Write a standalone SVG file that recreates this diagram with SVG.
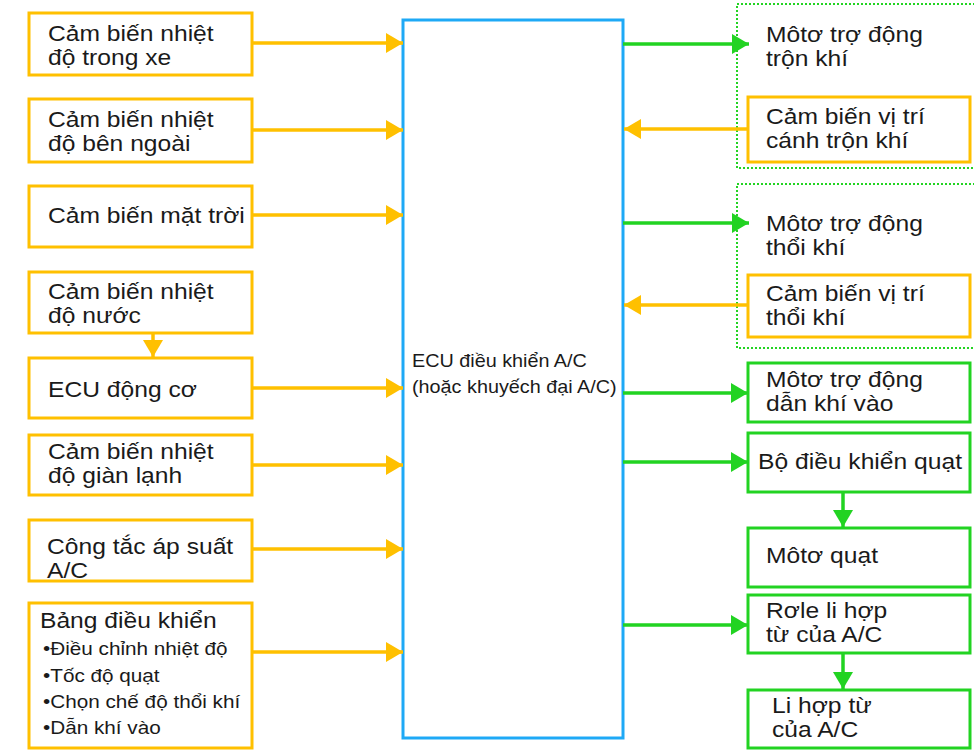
<svg xmlns="http://www.w3.org/2000/svg" width="974" height="751" viewBox="0 0 974 751">
<style>
.bg{fill:#ffffff}
.ob{fill:#ffffff;stroke:#FFC000;stroke-width:3}
.gb{fill:#ffffff;stroke:#22D322;stroke-width:3}
.dg{fill:none;stroke:#22D322;stroke-width:2;stroke-dasharray:2 2}
.ecu{fill:#ffffff;stroke:#1EA9F6;stroke-width:3}
.t{font-family:"Liberation Sans",Arial,sans-serif;font-size:22px;fill:#1a1a1a}
.s{font-family:"Liberation Sans",Arial,sans-serif;font-size:18px;fill:#1a1a1a}
.b{font-family:"Liberation Sans",Arial,sans-serif;font-size:18.5px;fill:#1a1a1a}
.oa{stroke:#FFC000;stroke-width:3.5;fill:none;marker-end:url(#ho)}
.ga{stroke:#22D322;stroke-width:3.5;fill:none;marker-end:url(#hg)}
</style>
<defs>
<marker id="ho" markerUnits="userSpaceOnUse" markerWidth="17" markerHeight="20" refX="17" refY="10" orient="auto">
<path d="M0,0 L17,10 L0,20 z" fill="#FFC000"/>
</marker>
<marker id="hg" markerUnits="userSpaceOnUse" markerWidth="17" markerHeight="20" refX="17" refY="10" orient="auto">
<path d="M0,0 L17,10 L0,20 z" fill="#22D322"/>
</marker>
</defs>
<rect class="bg" x="0" y="0" width="974" height="751"/>

<g id="groups">
<rect id="grp-mix" class="dg" x="737" y="4" width="250" height="164"/>
<rect id="grp-blow" class="dg" x="737" y="184" width="250" height="164"/>
</g>

<g id="ecu">
<rect class="ecu" x="403" y="20" width="220" height="718"/>
<text class="s" transform="translate(412 367) scale(1.1 1)">ECU điều khiển A/C</text>
<text class="s" transform="translate(412 393) scale(1.1 1)">(hoặc khuyếch đại A/C)</text>
</g>

<g id="in-cabin">
<rect class="ob" x="29" y="13" width="223" height="62"/>
<text class="t" transform="translate(48 41) scale(1.12 1)">Cảm biến nhiệt</text>
<text class="t" transform="translate(48 65) scale(1.12 1)">độ trong xe</text>
</g>
<g id="ambient">
<rect class="ob" x="29" y="99" width="223" height="63"/>
<text class="t" transform="translate(48 127) scale(1.12 1)">Cảm biến nhiệt</text>
<text class="t" transform="translate(48 151) scale(1.12 1)">độ bên ngoài</text>
</g>
<g id="solar">
<rect class="ob" x="29" y="186" width="223" height="61"/>
<text class="t" transform="translate(48 223) scale(1.12 1)">Cảm biến mặt trời</text>
</g>
<g id="water">
<rect class="ob" x="29" y="272" width="223" height="61"/>
<text class="t" transform="translate(48 299) scale(1.12 1)">Cảm biến nhiệt</text>
<text class="t" transform="translate(48 323) scale(1.12 1)">độ nước</text>
</g>
<g id="engine-ecu">
<rect class="ob" x="29" y="358" width="223" height="60"/>
<text class="t" transform="translate(48 397) scale(1.12 1)">ECU động cơ</text>
</g>
<g id="evap">
<rect class="ob" x="29" y="435" width="223" height="60"/>
<text class="t" transform="translate(48 459) scale(1.12 1)">Cảm biến nhiệt</text>
<text class="t" transform="translate(48 483) scale(1.12 1)">độ giàn lạnh</text>
</g>
<g id="pressure">
<rect class="ob" x="29" y="520" width="223" height="61"/>
<text class="t" transform="translate(47 554) scale(1.12 1)">Công tắc áp suất</text>
<text class="t" transform="translate(47 578) scale(1.12 1)">A/C</text>
</g>
<g id="panel">
<rect class="ob" x="29" y="603" width="223" height="145"/>
<text class="t" transform="translate(40 628) scale(1.12 1)">Bảng điều khiển</text>
<text class="b" transform="translate(43 655) scale(1.12 1)">•Điều chỉnh nhiệt độ</text>
<text class="b" transform="translate(43 682) scale(1.12 1)">•Tốc độ quạt</text>
<text class="b" transform="translate(43 708) scale(1.12 1)">•Chọn chế độ thổi khí</text>
<text class="b" transform="translate(43 734) scale(1.12 1)">•Dẫn khí vào</text>
</g>

<g id="mix-motor">
<text class="t" transform="translate(766 42) scale(1.12 1)">Môtơ trợ động</text>
<text class="t" transform="translate(766 66) scale(1.12 1)">trộn khí</text>
</g>
<g id="mix-sensor">
<rect class="ob" x="748" y="97" width="222" height="65"/>
<text class="t" transform="translate(766 124) scale(1.12 1)">Cảm biến vị trí</text>
<text class="t" transform="translate(766 148) scale(1.12 1)">cánh trộn khí</text>
</g>
<g id="blow-motor">
<text class="t" transform="translate(766 231) scale(1.12 1)">Môtơ trợ động</text>
<text class="t" transform="translate(766 255) scale(1.12 1)">thổi khí</text>
</g>
<g id="blow-sensor">
<rect class="ob" x="748" y="275" width="222" height="62"/>
<text class="t" transform="translate(766 301) scale(1.12 1)">Cảm biến vị trí</text>
<text class="t" transform="translate(766 325) scale(1.12 1)">thổi khí</text>
</g>
<g id="intake-motor">
<rect class="gb" x="748" y="363" width="222" height="59"/>
<text class="t" transform="translate(766 387) scale(1.12 1)">Môtơ trợ động</text>
<text class="t" transform="translate(766 411) scale(1.12 1)">dẫn khí vào</text>
</g>
<g id="fan-ctrl">
<rect class="gb" x="748" y="433" width="222" height="59"/>
<text class="t" transform="translate(758 469) scale(1.12 1)">Bộ điều khiển quạt</text>
</g>
<g id="fan-motor">
<rect class="gb" x="748" y="528" width="222" height="59"/>
<text class="t" transform="translate(766 563) scale(1.12 1)">Môtơ quạt</text>
</g>
<g id="clutch-relay">
<rect class="gb" x="748" y="595" width="222" height="58"/>
<text class="t" transform="translate(766 618) scale(1.12 1)">Rơle li hợp</text>
<text class="t" transform="translate(766 642) scale(1.12 1)">từ của A/C</text>
</g>
<g id="clutch">
<rect class="gb" x="748" y="690" width="222" height="58"/>
<text class="t" transform="translate(772 713) scale(1.12 1)">Li hợp từ</text>
<text class="t" transform="translate(772 737) scale(1.12 1)">của A/C</text>
</g>

<g id="connectors">
<line class="oa" x1="252" y1="43" x2="403" y2="43"/>
<line class="oa" x1="252" y1="130" x2="403" y2="130"/>
<line class="oa" x1="252" y1="215" x2="403" y2="215"/>
<line class="oa" x1="153" y1="333" x2="153" y2="357"/>
<line class="oa" x1="252" y1="388" x2="403" y2="388"/>
<line class="oa" x1="252" y1="465" x2="403" y2="465"/>
<line class="oa" x1="252" y1="549" x2="403" y2="549"/>
<line class="oa" x1="252" y1="652" x2="403" y2="652"/>
<line class="oa" x1="748" y1="129" x2="624" y2="129"/>
<line class="oa" x1="748" y1="305" x2="624" y2="305"/>
<line class="ga" x1="623" y1="44" x2="749" y2="44"/>
<line class="ga" x1="623" y1="223" x2="749" y2="223"/>
<line class="ga" x1="623" y1="393" x2="748" y2="393"/>
<line class="ga" x1="623" y1="462" x2="748" y2="462"/>
<line class="ga" x1="623" y1="625" x2="748" y2="625"/>
<line class="ga" x1="843" y1="492" x2="843" y2="527"/>
<line class="ga" x1="843" y1="653" x2="843" y2="689"/>
</g>
</svg>
